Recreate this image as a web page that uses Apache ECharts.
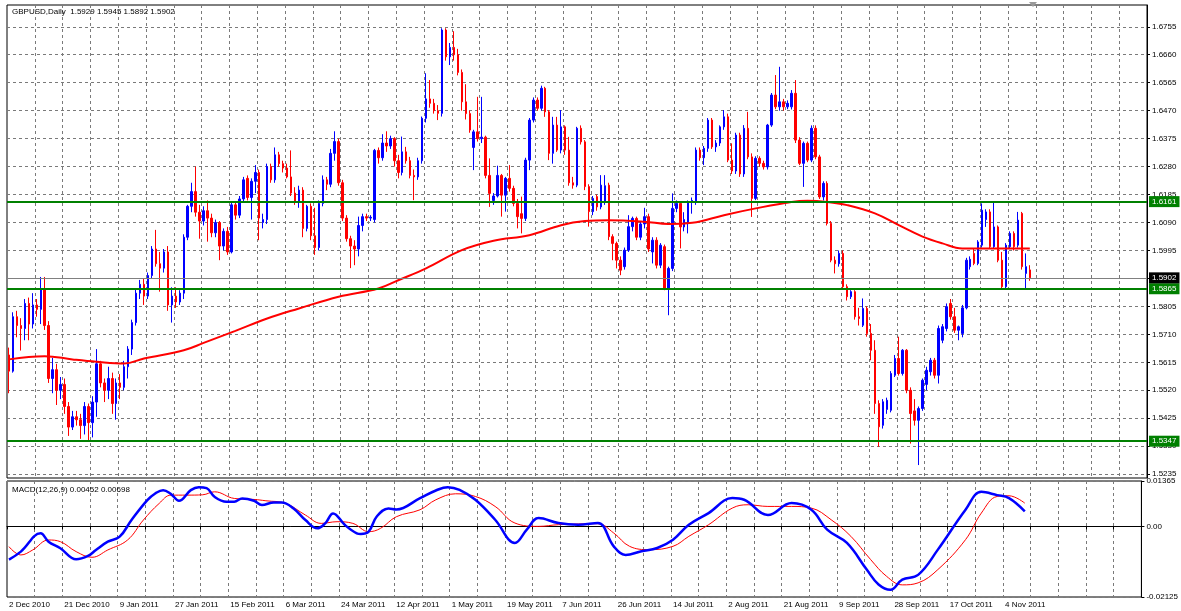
<!DOCTYPE html>
<html>
<head>
<meta charset="utf-8">
<title>GBPUSD Daily</title>
<script src="https://cdn.jsdelivr.net/npm/echarts@6/dist/echarts.min.js"></script>
<style>
html,body{margin:0;padding:0;background:#fff;}
#chart{width:1181px;height:611px;}
</style>
</head>
<body>
<div id="chart"></div>
<script>
// date labels every 14 bars
var dateLabels = ['2 Dec 2010','21 Dec 2010','9 Jan 2011','27 Jan 2011','15 Feb 2011','6 Mar 2011',
    '24 Mar 2011','12 Apr 2011','1 May 2011','19 May 2011','7 Jun 2011','26 Jun 2011','14 Jul 2011',
    '2 Aug 2011','21 Aug 2011','9 Sep 2011','28 Sep 2011','17 Oct 2011','4 Nov 2011'];

var priceTicks = [1.5235,1.5330,1.5425,1.5520,1.5615,1.5710,1.5805,1.5900,1.5995,1.6090,
    1.6185,1.6280,1.6375,1.6470,1.6565,1.6660,1.6755];
var macdTicks = [-0.02125, 0, 0.01365];

var levels = [1.6161, 1.5865, 1.5347];   // green horizontal lines
var bidPrice = 1.5902;
var emptyBars = 29;                      // chart shift on the right

// [open, close, low, high]
var candles = [
[1.5640,1.5585,1.5510,1.5665],[1.5585,1.5770,1.5580,1.5785],[1.5770,1.5740,1.5700,1.5790],[1.5740,1.5730,1.5655,1.5765],
[1.5730,1.5815,1.5690,1.5830],[1.5815,1.5745,1.5690,1.5835],[1.5745,1.5810,1.5730,1.5850],[1.5810,1.5795,1.5770,1.5830],
[1.5795,1.5865,1.5745,1.5905],[1.5865,1.5740,1.5725,1.5905],[1.5740,1.5560,1.5545,1.5755],[1.5560,1.5590,1.5510,1.5630],
[1.5590,1.5520,1.5470,1.5610],[1.5520,1.5540,1.5490,1.5565],[1.5540,1.5465,1.5440,1.5560],[1.5465,1.5395,1.5365,1.5480],
[1.5395,1.5430,1.5385,1.5450],[1.5430,1.5420,1.5400,1.5450],[1.5420,1.5400,1.5355,1.5440],[1.5400,1.5465,1.5370,1.5480],
[1.5465,1.5410,1.5350,1.5475],[1.5410,1.5480,1.5360,1.5500],[1.5480,1.5610,1.5430,1.5660],[1.5610,1.5545,1.5530,1.5620],
[1.5545,1.5520,1.5480,1.5560],[1.5520,1.5560,1.5490,1.5600],[1.5560,1.5475,1.5440,1.5580],[1.5475,1.5545,1.5420,1.5560],
[1.5545,1.5530,1.5490,1.5575],[1.5530,1.5600,1.5520,1.5620],[1.5600,1.5660,1.5560,1.5670],[1.5660,1.5750,1.5640,1.5760],
[1.5750,1.5850,1.5740,1.5865],[1.5850,1.5880,1.5830,1.5895],[1.5880,1.5840,1.5810,1.5900],[1.5840,1.5910,1.5830,1.5920],
[1.5910,1.6000,1.5900,1.6010],[1.6000,1.5950,1.5940,1.6065],[1.5950,1.5935,1.5855,1.5990],[1.5935,1.5990,1.5920,1.6000],
[1.5990,1.5810,1.5790,1.6010],[1.5810,1.5840,1.5750,1.5870],[1.5840,1.5820,1.5800,1.5870],[1.5820,1.5850,1.5810,1.5860],
[1.5850,1.6040,1.5830,1.6050],[1.6040,1.6145,1.6030,1.6150],[1.6145,1.6195,1.6125,1.6225],[1.6195,1.6125,1.6110,1.6280],
[1.6125,1.6095,1.6035,1.6150],[1.6095,1.6130,1.6080,1.6145],
[1.6130,1.6105,1.6025,1.6165],[1.6105,1.6055,1.6040,1.6120],[1.6055,1.6090,1.6040,1.6100],[1.6090,1.6010,1.5962,1.6095],
[1.6010,1.6060,1.5995,1.6070],[1.6060,1.5990,1.5980,1.6075],[1.5990,1.6150,1.5985,1.6160],[1.6150,1.6115,1.6100,1.6160],
[1.6115,1.6170,1.6105,1.6180],[1.6170,1.6235,1.6160,1.6245],[1.6240,1.6175,1.6165,1.6250],[1.6175,1.6230,1.6100,1.6240],
[1.6230,1.6260,1.6190,1.6285],[1.6260,1.6105,1.6030,1.6270],[1.6090,1.6100,1.6070,1.6120],[1.6100,1.6280,1.6085,1.6290],
[1.6280,1.6235,1.6225,1.6290],[1.6235,1.6320,1.6225,1.6345],[1.6320,1.6290,1.6280,1.6330],[1.6290,1.6275,1.6260,1.6300],
[1.6275,1.6245,1.6240,1.6290],[1.6245,1.6190,1.6180,1.6335],[1.6190,1.6160,1.6150,1.6210],[1.6160,1.6200,1.6140,1.6215],
[1.6200,1.6070,1.6040,1.6210],[1.6070,1.6145,1.6060,1.6150],[1.6145,1.6045,1.6030,1.6155],[1.6045,1.6005,1.5980,1.6140],
[1.6005,1.6155,1.5995,1.6165],[1.6155,1.6235,1.6145,1.6250],[1.6235,1.6220,1.6200,1.6245],[1.6220,1.6325,1.6210,1.6340],
[1.6325,1.6365,1.6300,1.6400],[1.6365,1.6225,1.6215,1.6375],[1.6225,1.6105,1.6095,1.6235],[1.6105,1.6035,1.6025,1.6115],
[1.6035,1.6010,1.5935,1.6045],[1.6010,1.6000,1.5945,1.6030],[1.6000,1.6080,1.5975,1.6110],[1.6080,1.6110,1.6060,1.6120],
[1.6110,1.6105,1.6095,1.6120],[1.6105,1.6108,1.6095,1.6115],[1.6100,1.6335,1.6090,1.6340],[1.6335,1.6310,1.6290,1.6345],
[1.6310,1.6360,1.6300,1.6390],[1.6360,1.6350,1.6330,1.6400],[1.6350,1.6375,1.6340,1.6385],[1.6375,1.6300,1.6280,1.6380],
[1.6300,1.6260,1.6240,1.6320],[1.6260,1.6330,1.6250,1.6382],[1.6330,1.6300,1.6290,1.6347],[1.6300,1.6250,1.6240,1.6313],
[1.6250,1.6245,1.6166,1.6270],[1.6245,1.6300,1.6235,1.6310],[1.6300,1.6444,1.6290,1.6450],[1.6444,1.6510,1.6430,1.6597],
[1.6510,1.6495,1.6480,1.6574],[1.6495,1.6470,1.6460,1.6510],[1.6470,1.6461,1.6438,1.6489],[1.6461,1.6744,1.6450,1.6750],
[1.6744,1.6653,1.6640,1.6750],[1.6653,1.6685,1.6625,1.6700],[1.6685,1.6660,1.6640,1.6740],[1.6660,1.6600,1.6590,1.6680],
[1.6600,1.6500,1.6470,1.6610],[1.6500,1.6460,1.6440,1.6560],[1.6460,1.6404,1.6395,1.6470],[1.6345,1.6398,1.6268,1.6405],
[1.6398,1.6375,1.6365,1.6517],[1.6375,1.6380,1.6360,1.6517],[1.6380,1.6250,1.6240,1.6385],[1.6250,1.6189,1.6143,1.6308],
[1.6165,1.6180,1.6150,1.6190],[1.6180,1.6250,1.6175,1.6283],[1.6250,1.6183,1.6110,1.6255],[1.6183,1.6240,1.6127,1.6245],
[1.6240,1.6206,1.6195,1.6285],[1.6206,1.6155,1.6145,1.6215],[1.6155,1.6110,1.6070,1.6170],[1.6120,1.6104,1.6053,1.6178],
[1.6104,1.6302,1.6095,1.6310],[1.6302,1.6438,1.6268,1.6445],[1.6438,1.6506,1.6430,1.6515],[1.6506,1.6478,1.6470,1.6515],
[1.6478,1.6546,1.6470,1.6555],[1.6546,1.6466,1.6449,1.6551],[1.6466,1.6325,1.6302,1.6472],[1.6325,1.6421,1.6290,1.6449],
[1.6421,1.6336,1.6330,1.6449],[1.6336,1.6415,1.6325,1.6472],[1.6415,1.6336,1.6320,1.6420],[1.6336,1.6225,1.6215,1.6381],
[1.6225,1.6217,1.6205,1.6245],[1.6217,1.6410,1.6210,1.6415],[1.6410,1.6364,1.6355,1.6420],[1.6364,1.6212,1.6200,1.6370],
[1.6212,1.6127,1.6076,1.6220],[1.6127,1.6172,1.6115,1.6180],[1.6178,1.6143,1.6130,1.6185],[1.6143,1.6217,1.6135,1.6251],
[1.6160,1.6215,1.6150,1.6251],[1.6217,1.6042,1.6030,1.6225],[1.6042,1.6019,1.5962,1.6050],[1.6019,1.5962,1.5934,1.6025],
[1.5962,1.5928,1.5911,1.5975],[1.5940,1.5996,1.5930,1.6005],[1.5996,1.6076,1.5990,1.6115],[1.6076,1.6104,1.6060,1.6110],
[1.6104,1.6040,1.6030,1.6110],[1.6040,1.6085,1.6030,1.6095],[1.6085,1.6110,1.6070,1.6140],
[1.6110,1.6000,1.5990,1.6120],[1.5990,1.6030,1.5951,1.6040],[1.6030,1.5945,1.5934,1.6040],[1.5945,1.6013,1.5935,1.6020],
[1.6008,1.5866,1.5860,1.6015],[1.5866,1.5934,1.5775,1.5940],[1.5934,1.6138,1.5925,1.6189],[1.6138,1.6155,1.6125,1.6165],
[1.6155,1.6075,1.6002,1.6160],[1.6075,1.6100,1.6060,1.6125],[1.6087,1.6160,1.6053,1.6165],[1.6160,1.6165,1.6120,1.6175],
[1.6160,1.6336,1.6150,1.6345],[1.6336,1.6310,1.6300,1.6345],[1.6310,1.6342,1.6285,1.6350],[1.6342,1.6438,1.6330,1.6445],
[1.6438,1.6347,1.6340,1.6445],[1.6347,1.6360,1.6330,1.6370],[1.6360,1.6415,1.6350,1.6420],[1.6415,1.6449,1.6405,1.6472],
[1.6449,1.6302,1.6295,1.6460],[1.6302,1.6265,1.6255,1.6359],[1.6265,1.6387,1.6255,1.6395],[1.6387,1.6255,1.6245,1.6395],
[1.6255,1.6410,1.6245,1.6421],[1.6410,1.6313,1.6305,1.6466],[1.6313,1.6172,1.6109,1.6325],[1.6172,1.6308,1.6166,1.6315],
[1.6308,1.6291,1.6280,1.6315],[1.6291,1.6279,1.6270,1.6300],[1.6279,1.6421,1.6270,1.6425],[1.6421,1.6523,1.6415,1.6530],
[1.6523,1.6483,1.6475,1.6591],[1.6483,1.6500,1.6470,1.6619],[1.6500,1.6483,1.6470,1.6510],[1.6483,1.6495,1.6475,1.6505],
[1.6483,1.6529,1.6474,1.6540],[1.6529,1.6370,1.6360,1.6574],[1.6370,1.6291,1.6285,1.6380],[1.6291,1.6359,1.6211,1.6365],
[1.6359,1.6302,1.6295,1.6365],[1.6302,1.6410,1.6295,1.6420],[1.6410,1.6313,1.6305,1.6420],[1.6313,1.6177,1.6170,1.6320],
[1.6177,1.6223,1.6165,1.6230],[1.6223,1.6087,1.6080,1.6230],[1.6087,1.5962,1.5955,1.6095],[1.5962,1.5950,1.5917,1.5975],
[1.5950,1.5985,1.5940,1.5995],[1.5985,1.5872,1.5865,1.5995],[1.5872,1.5838,1.5825,1.5880],[1.5838,1.5855,1.5830,1.5860],
[1.5855,1.5770,1.5760,1.5860],[1.5770,1.5764,1.5740,1.5800],[1.5741,1.5798,1.5735,1.5832],[1.5798,1.5713,1.5702,1.5805],
[1.5713,1.5656,1.5622,1.5745],[1.5656,1.5475,1.5440,1.5690],[1.5475,1.5396,1.5328,1.5486],[1.5401,1.5481,1.5390,1.5490],
[1.5455,1.5486,1.5440,1.5495],[1.5452,1.5577,1.5445,1.5585],[1.5571,1.5628,1.5565,1.5640],[1.5628,1.5577,1.5570,1.5702],
[1.5577,1.5656,1.5570,1.5660],[1.5656,1.5520,1.5510,1.5660],[1.5520,1.5441,1.5339,1.5530],[1.5450,1.5418,1.5400,1.5490],
[1.5418,1.5458,1.5266,1.5465],[1.5458,1.5554,1.5450,1.5560],[1.5540,1.5588,1.5520,1.5600],[1.5583,1.5622,1.5570,1.5630],
[1.5622,1.5571,1.5560,1.5630],[1.5571,1.5730,1.5543,1.5740],[1.5690,1.5736,1.5680,1.5745],[1.5730,1.5804,1.5720,1.5815],
[1.5815,1.5770,1.5760,1.5830],[1.5770,1.5724,1.5715,1.5800],[1.5724,1.5736,1.5690,1.5740],[1.5713,1.5800,1.5700,1.5810],
[1.5800,1.5962,1.5795,1.5970],[1.5940,1.5965,1.5930,1.5975],[1.5985,1.5951,1.5945,1.6000],[1.5951,1.6024,1.5945,1.6030],
[1.6013,1.6132,1.6005,1.6155],[1.6100,1.6126,1.6075,1.6135],[1.6126,1.6008,1.6000,1.6135],[1.6008,1.6075,1.6000,1.6160],
[1.6075,1.5962,1.5955,1.6080],[1.5962,1.5872,1.5866,1.5990],[1.5872,1.6013,1.5866,1.6020],[1.6008,1.6053,1.6000,1.6060],
[1.6053,1.6008,1.5995,1.6060],[1.6013,1.6098,1.6005,1.6126],[1.6121,1.5940,1.5930,1.6126],[1.5917,1.5940,1.5866,1.5985],
[1.5929,1.5902,1.5892,1.5945]
];

// moving average, read at [bar, value]
var maPoints = [[0,1.5625],[9,1.5636],[16,1.5625],[22,1.5617],[29,1.5611],[34,1.5628],[44,1.5656],[49,1.5681],
    [57,1.5722],[65,1.5764],[73,1.5798],[83,1.5838],[93,1.5866],[98,1.5894],[105,1.5934],[114,1.5996],
    [122,1.6028],[131,1.6047],[139,1.6081],[145,1.6095],[151,1.6098],[160,1.6093],[166,1.6085],[172,1.6089],
    [180,1.6115],[188,1.6138],[197,1.6160],[201,1.6164],[206,1.6160],[211,1.6149],[218,1.6121],[224,1.6081],
    [230,1.6042],[235,1.6019],[240,1.6002],[247,1.6002],[257,1.6002]];

// MACD main (blue) and signal (red), [bar, value]
var macdMain = [[0,-0.0100],[3,-0.0076],[8,-0.0021],[10,-0.0046],[13,-0.0066],[17,-0.0099],[20,-0.0089],
    [22,-0.0071],[25,-0.0046],[28,-0.0031],[31,0.0019],[35,0.0079],[37,0.0099],[39,0.0109],[41,0.0097],
    [43,0.0077],[46,0.0109],[48,0.0118],[50,0.0115],[52,0.0089],[55,0.0074],[57,0.0074],[59,0.0084],
    [62,0.0077],[64,0.0064],[67,0.0072],[69,0.0072],[72,0.0054],[75,0.0019],[78,-0.0006],[80,0.0009],
    [82,0.0039],[85,0.0004],[88,-0.0021],[89,-0.0023],[91,-0.0016],[93,0.0029],[96,0.0054],[98,0.0051],
    [104,0.0085],[108,0.0108],[111,0.0118],[114,0.0110],[118,0.0080],[123,0.0020],[128,-0.0050],
    [131,-0.0010],[134,0.0025],[139,0.0010],[144,0.0005],[149,0.0010],[153,-0.0060],[156,-0.0086],
    [160,-0.0075],[164,-0.0065],[168,-0.0040],[172,0.0005],[177,0.0040],[183,0.0085],[186,0.0080],
    [192,0.0034],[198,0.0070],[203,0.0050],[207,-0.0010],[212,-0.0050],[217,-0.0130],[220,-0.0175],
    [223,-0.0191],[226,-0.0160],[230,-0.0146],[235,-0.0070],[242,0.0050],[246,0.0104],[250,0.0094],
    [253,0.0085],[257,0.00452]];
var macdSignal = [[0,-0.0061],[3,-0.0086],[6,-0.0071],[10,-0.0041],[13,-0.0046],[17,-0.0076],[21,-0.0093],
    [25,-0.0071],[30,-0.0041],[34,0.0019],[38,0.0069],[41,0.0094],[45,0.0094],[49,0.0095],[52,0.0104],
    [57,0.0084],[62,0.0081],[65,0.0077],[70,0.0069],[75,0.0034],[79,0.0009],[83,0.0014],[87,0.0009],
    [91,-0.0016],[94,-0.0006],[98,0.0029],[104,0.0050],[108,0.0080],[113,0.0098],[118,0.0090],
    [123,0.0060],[128,0.0010],[134,0.0000],[139,0.0005],[149,0.0008],[153,-0.0020],[157,-0.0060],
    [162,-0.0070],[168,-0.0060],[172,-0.0030],[177,0.0005],[183,0.0055],[187,0.0065],[192,0.0060],
    [198,0.0060],[203,0.0055],[208,0.0020],[213,-0.0030],[218,-0.0100],[222,-0.0150],[226,-0.0176],
    [230,-0.0170],[235,-0.0130],[242,-0.0040],[246,0.0040],[250,0.0090],[253,0.0092],[257,0.00698]];

var FONT = 'Liberation Sans';
var total = candles.length + emptyBars;
var categories = [];
for (var i = 0; i < total; i++) categories.push(String(i));

function dateAt(idx){
    return (idx % 14 === 0 && dateLabels[idx / 14]) ? dateLabels[idx / 14] : '';
}

var last = candles[candles.length - 1];
var headText = 'GBPUSD,Daily  ' + [last[0], last[3], last[2], last[1]].map(function(v){return v.toFixed(4);}).join(' ');
var macdText = 'MACD(12,26,9) ' + macdMain[macdMain.length-1][1].toFixed(5) + ' ' + macdSignal[macdSignal.length-1][1].toFixed(5);

var gridDash = {color:'#7a7a7a', width:1, type:[3,3]};

function levelLine(v, bg, lineColor, w){
    return {
        yAxis: v,
        lineStyle: {color: lineColor, width: w, type: 'solid'},
        label: {
            show: true, position: 'end', distance: 2,
            formatter: v.toFixed(4),
            backgroundColor: bg, color: '#fff',
            padding: [2,3,1,3], fontSize: 8, fontFamily: FONT
        }
    };
}

var chart = echarts.init(document.getElementById('chart'));
chart.setOption({
    animation: false,
    backgroundColor: '#fff',
    textStyle: {fontFamily: FONT},
    title: [
        {text: headText, left: 12, top: 8, padding: 0,
            textStyle: {fontSize: 8, fontWeight: 'normal', color: '#000', fontFamily: FONT}},
        {text: macdText, left: 12, top: 486, padding: 0,
            textStyle: {fontSize: 8, fontWeight: 'normal', color: '#000', fontFamily: FONT}}
    ],
    grid: [
        {left: 7, right: 34, top: 5, height: 473, show: true, borderColor: '#000', borderWidth: 1},
        {left: 7, right: 34, top: 481, height: 116, show: true, borderColor: '#000', borderWidth: 1}
    ],
    xAxis: [
        {type: 'category', gridIndex: 0, data: categories, boundaryGap: true,
            axisLine: {show: false}, axisTick: {show: false}, axisLabel: {show: false},
            splitLine: {show: true, interval: function(i){ return i % 7 === 0 && i > 0; }, lineStyle: gridDash}},
        {type: 'category', gridIndex: 1, data: categories, boundaryGap: true,
            axisLine: {show: true, lineStyle: {color: '#000'}},
            axisTick: {show: true, length: 3, interval: function(i){ return i % 7 === 0; }, lineStyle: {color: '#000'}},
            axisLabel: {show: true, interval: function(i){ return i % 14 === 0; }, align: 'left', margin: 4,
                fontSize: 8, color: '#000', fontFamily: FONT,
                formatter: function(v, idx){ return dateAt(idx); }},
            splitLine: {show: true, interval: function(i){ return i % 7 === 0 && i > 0; }, lineStyle: gridDash}}
    ],
    yAxis: [
        {type: 'value', gridIndex: 0, position: 'right', min: 1.5222, max: 1.6829, scale: true,
            axisLine: {show: true, lineStyle: {color: '#000'}},
            axisTick: {show: true, length: 3, customValues: priceTicks, lineStyle: {color: '#000'}},
            axisLabel: {show: true, customValues: priceTicks, margin: 5, fontSize: 8, color: '#000', fontFamily: FONT,
                formatter: function(v){ return v.toFixed(4); }},
            splitLine: {show: true, lineStyle: gridDash}},
        {type: 'value', gridIndex: 1, position: 'right', min: -0.02125, max: 0.01365,
            axisLine: {show: true, lineStyle: {color: '#000'}},
            axisTick: {show: true, length: 3, customValues: macdTicks, lineStyle: {color: '#000'}},
            axisLabel: {show: true, customValues: macdTicks, margin: 5, fontSize: 8, color: '#000', fontFamily: FONT,
                formatter: function(v){ return v === 0 ? '0.00' : v.toFixed(5); }},
            splitLine: {show: true, lineStyle: gridDash}}
    ],
    series: [
        {
            type: 'candlestick', xAxisIndex: 0, yAxisIndex: 0, data: candles,
            barWidth: 2,
            itemStyle: {color: '#0000ff', color0: '#ff0000', borderColor: '#0000ff', borderColor0: '#ff0000', borderWidth: 1},
            markLine: {
                silent: true, symbol: 'none', z: 10, precision: 4,
                data: levels.map(function(v){ return levelLine(v, '#008000', '#008000', 2); })
                    .concat([levelLine(bidPrice, '#000', '#808080', 1)])
            }
        },
        {
            type: 'line', xAxisIndex: 0, yAxisIndex: 0, data: maPoints,
            showSymbol: false, smooth: 0.4, lineStyle: {color: '#ff0000', width: 2}, z: 5
        },
        {
            type: 'line', xAxisIndex: 1, yAxisIndex: 1, data: macdSignal,
            showSymbol: false, smooth: 0.4, lineStyle: {color: '#ff0000', width: 1}
        },
        {
            type: 'line', xAxisIndex: 1, yAxisIndex: 1, data: macdMain,
            showSymbol: false, smooth: 0.4, lineStyle: {color: '#0000ff', width: 2.5}
        }
    ],
    graphic: [
        {type: 'polygon', shape: {points: [[1029,2],[1037,2],[1033,7]]}, style: {fill: '#999'}}
    ]
});
</script>
</body>
</html>
